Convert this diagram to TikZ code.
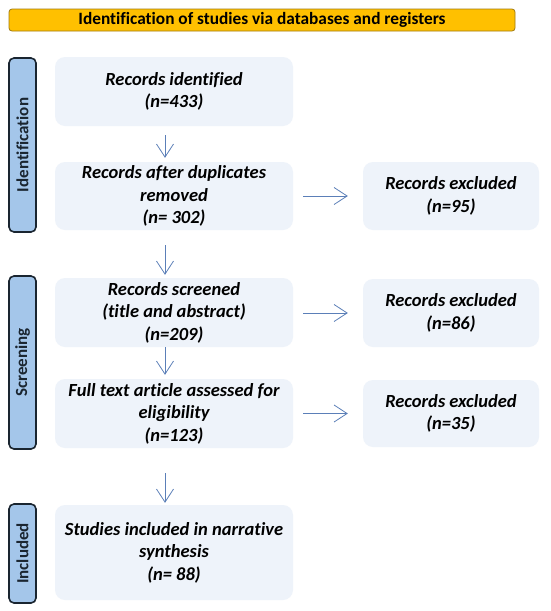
\documentclass[tikz,border=0pt]{standalone}
\usepackage{fontspec}
\setmainfont{Carlito}[Ligatures=NoCommon]
\usetikzlibrary{arrows.meta}
\definecolor{titlefill}{HTML}{FFC000}
\definecolor{titledraw}{HTML}{A07A10}
\definecolor{boxfill}{HTML}{EEF3FA}
\definecolor{arrowcol}{HTML}{5B7FB8}
\definecolor{labfill}{HTML}{A4C6EA}
\definecolor{labdraw}{HTML}{1A2530}
\begin{document}
\begin{tikzpicture}[x=1pt,y=-1pt,
  mainbox/.style={fill=boxfill, rounded corners=10pt, minimum width=238pt, align=center,
     font=\fontsize{18.5}{22.5}\selectfont\bfseries\itshape, text=black, inner sep=0pt},
  sidebox/.style={fill=boxfill, rounded corners=10pt, minimum width=176pt, minimum height=68pt, align=center,
     font=\fontsize{18.5}{22.5}\selectfont\bfseries\itshape, text=black, inner sep=0pt},
  phase/.style={fill=labfill, draw=labdraw, line width=1.6pt, rounded corners=5pt, minimum height=27pt,
     rotate=90, font=\fontsize{17}{18}\selectfont\bfseries, text=labdraw, inner sep=0pt},
  flow/.style={draw=arrowcol, line width=0.8pt, -{Straight Barb[length=13pt,width=17pt,line width=0.8pt]}}
]
\useasboundingbox (0,0) rectangle (550,611);
\fill[white] (0,0) rectangle (550,611);

\node[fill=titlefill, draw=titledraw, line width=0.8pt, rounded corners=3pt,
  minimum width=506pt, minimum height=22pt, inner sep=0pt,
  font=\fontsize{17.3}{19}\selectfont\bfseries] (title) at (262,20) {Identification of studies via databases and registers};

\node[phase, minimum width=174pt] (lid) at (22.5,145) {Identification};
\node[phase, minimum width=173pt] (lsc) at (22.5,362.5) {Screening};
\node[phase, minimum width=99pt] (lin) at (22.5,553.5) {Included};

\node[mainbox, minimum height=69pt] (b1) at (174,91.5) {Records identified\\(n=433)};
\node[mainbox, minimum height=68pt] (b2) at (174,196) {Records after duplicates\\removed\\(n= 302)};
\node[mainbox, minimum height=69pt] (b3) at (174,312.5) {Records screened\\(title and abstract)\\(n=209)};
\node[mainbox, minimum height=69pt] (b4) at (174,413.5) {Full text article assessed for\\eligibility\\(n=123)};
\node[mainbox, minimum height=95pt] (b5) at (174,552.5) {Studies included in narrative\\synthesis\\(n= 88)};

\node[sidebox] (r1) at (451,196) {Records excluded\\(n=95)};
\node[sidebox] (r2) at (451,313) {Records excluded\\(n=86)};
\node[sidebox, minimum height=67pt] (r3) at (451,413.5) {Records excluded\\(n=35)};

\draw[flow, shorten <=9pt, shorten >=4pt] ([xshift=-9pt]b1.south) -- ([xshift=-9pt]b2.north);
\draw[flow, shorten <=15pt, shorten >=3pt] ([xshift=-9pt]b2.south) -- ([xshift=-9pt]b3.north);
\draw[flow, shorten <=0pt, shorten >=4pt] ([xshift=-9pt]b3.south) -- ([xshift=-9pt]b4.north);
\draw[flow, shorten <=25pt, shorten >=2pt] ([xshift=-9pt]b4.south) -- ([xshift=-9pt]b5.north);

\draw[flow, shorten <=10pt, shorten >=15pt] (b2.east |- r1.west) -- (r1.west);
\draw[flow, shorten <=10pt, shorten >=15pt] (b3.east |- r2.west) -- (r2.west);
\draw[flow, shorten <=10pt, shorten >=15pt] (b4.east |- r3.west) -- (r3.west);
\end{tikzpicture}
\end{document}
